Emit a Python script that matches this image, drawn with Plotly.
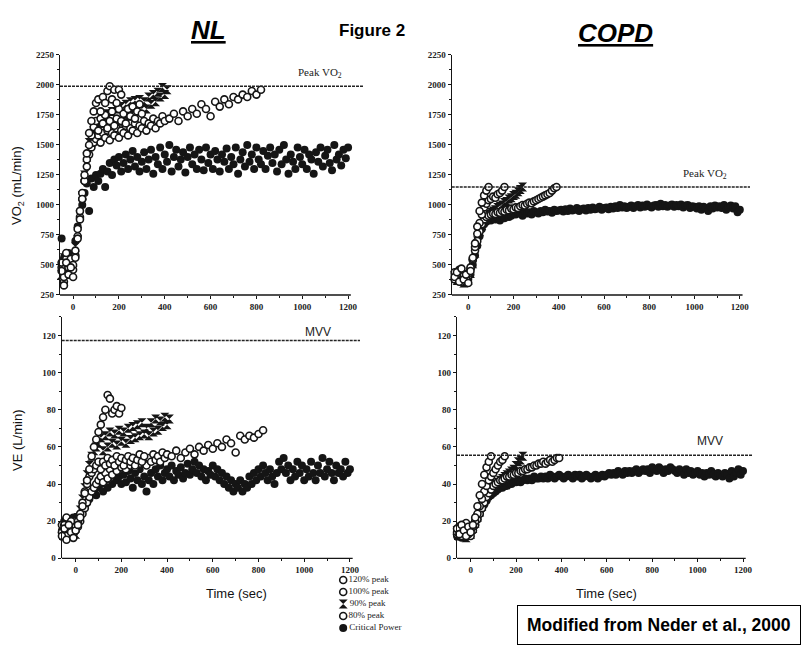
import plotly.graph_objects as go

# ---------------- data ----------------
labels = ["120% peak", "100% peak", "90% peak", "80% peak", "Critical Power"]

# time grids (s)
t_cp = list(range(-60, 1201, 10))
t_nl_120 = list(range(-60, 211, 10))
t_nl_100 = list(range(-60, 301, 10))
t_nl_90 = list(range(-60, 411, 10))
t_nl_80 = list(range(-60, 401, 10)) + list(range(420, 821, 20))
t_nl_120_ve = list(range(-60, 201, 10))
t_copd_120 = list(range(-60, 101, 10))
t_copd_100 = list(range(-60, 161, 10))
t_copd_90 = list(range(-60, 241, 10))
t_copd_80 = list(range(-60, 391, 10))
t_copd_120_ve = list(range(-60, 91, 10))
t_copd_100_ve = list(range(-60, 151, 10))
t_copd_90_ve = list(range(-60, 231, 10))

# NL  VO2 (mL/min)
nl_vo2_cp = [620, 720, 560, 480, 600, 520, 580,
             700, 820, 950, 1000, 1100, 1180, 950, 1220, 1150, 1250,
             1200, 1260, 1300, 1150, 1280, 1350, 1250, 1380, 1330, 1400,
             1280, 1350, 1420, 1300, 1380, 1450, 1320, 1400, 1280, 1360,
             1440, 1300, 1380, 1460, 1260, 1400, 1340, 1480, 1300, 1420,
             1360, 1500, 1280, 1400, 1460, 1320, 1380, 1440, 1270, 1400,
             1480, 1340, 1420, 1300, 1460, 1380, 1290, 1480, 1350, 1420,
             1300, 1450, 1380, 1280, 1420, 1360, 1470, 1300, 1400, 1340,
             1480, 1260, 1380, 1440, 1320, 1500, 1360, 1420, 1300, 1480,
             1380, 1340, 1450, 1300, 1410, 1480, 1350, 1420, 1280, 1460,
             1340, 1500, 1380, 1260, 1420, 1360, 1300, 1480, 1400, 1340,
             1460, 1300, 1420, 1380, 1260, 1440, 1360, 1480, 1320, 1410,
             1460, 1350, 1290, 1500, 1380, 1420, 1330, 1460, 1390, 1480]
nl_vo2_120 = [380, 450, 330, 520, 420, 480, 400,
              560, 720, 880, 1050, 1250, 1430, 1600, 1700, 1780, 1850,
              1880, 1780, 1900, 1850, 1950, 1990, 1880, 1960, 1850, 1960, 1920]
nl_vo2_100 = [450, 520, 400, 600, 480, 550, 500,
              620, 800, 950, 1100, 1200, 1380, 1500, 1580, 1650, 1700,
              1620, 1720, 1680, 1750, 1640, 1700, 1780, 1660, 1720, 1800,
              1700, 1760, 1680, 1800, 1740, 1820, 1720, 1780, 1840, 1760]
nl_vo2_90 = [500, 420, 560, 460, 540, 440, 520,
             650, 780, 920, 1080, 1250, 1400, 1520, 1580, 1620, 1650,
             1680, 1580, 1740, 1620, 1760, 1640, 1780, 1660, 1800, 1700,
             1820, 1700, 1840, 1740, 1860, 1760, 1870, 1780, 1880, 1800,
             1860, 1800, 1900, 1840, 1920, 1860, 1940, 1900, 1980, 1920, 1960]
nl_vo2_80 = [400, 480, 360, 550, 440, 500, 460,
             580, 740, 900, 1050, 1200, 1320, 1420, 1480, 1520, 1550,
             1580, 1520, 1600, 1560, 1620, 1540, 1600, 1580, 1640, 1560,
             1620, 1600, 1660, 1580, 1640, 1620, 1680, 1600, 1660, 1640,
             1700, 1620, 1680, 1660, 1720, 1640, 1700, 1680, 1740, 1700,
             1720, 1760, 1700, 1780, 1740, 1800, 1760, 1840, 1800, 1740,
             1860, 1820, 1880, 1840, 1900, 1880, 1920, 1900, 1950, 1920, 1960]

# NL  VE (L/min)
nl_ve_cp = [15, 20, 12, 18, 14, 22, 16,
            20, 24, 26, 28, 30, 32, 35, 36, 34, 38,
            40, 36, 42, 38, 44, 40, 46, 42, 44, 40,
            45, 41, 47, 43, 38, 46, 42, 48, 40, 44,
            36, 42, 46, 40, 48, 44, 50, 42, 46, 48,
            44, 50, 42, 47, 45, 49, 43, 46, 51, 45,
            48, 52, 46, 50, 44, 48, 42, 47, 45, 50,
            44, 48, 42, 46, 40, 44, 38, 42, 36, 40,
            38, 42, 36, 40, 38, 44, 40, 46, 42, 48,
            44, 50, 46, 42, 48, 44, 40, 46, 52, 48,
            54, 46, 50, 42, 48, 44, 52, 46, 50, 42,
            48, 44, 52, 46, 42, 50, 46, 54, 44, 48,
            52, 46, 42, 50, 46, 48, 44, 52, 46, 48]
nl_ve_120 = [12, 16, 10, 18, 14, 11, 15,
             18, 22, 28, 35, 42, 48, 55, 60, 64, 68,
             72, 76, 80, 88, 86, 78, 80, 82, 78, 81]
nl_ve_100 = [14, 18, 12, 16, 20, 13, 17,
             20, 24, 30, 36, 40, 44, 46, 48, 50, 52,
             48, 52, 50, 54, 51, 53, 50, 55, 52, 54,
             50, 53, 55, 52, 54, 50, 53, 56, 52, 55]
nl_ve_90 = [16, 12, 20, 14, 18, 15, 13,
            22, 26, 32, 38, 45, 50, 55, 58, 60, 62,
            65, 58, 66, 60, 68, 62, 67, 61, 69, 63,
            68, 62, 70, 64, 71, 65, 72, 66, 73, 67,
            70, 66, 73, 68, 75, 69, 74, 71, 76, 72, 75]
nl_ve_80 = [18, 14, 22, 12, 16, 20, 15,
            17, 20, 24, 27, 30, 33, 36, 38, 40, 42,
            44, 41, 46, 43, 48, 45, 50, 47, 52, 49,
            51, 48, 52, 50, 54, 49, 53, 51, 55, 52,
            50, 54, 52, 56, 53, 55, 52, 57, 54, 56,
            55, 58, 54, 57, 59, 56, 60, 58, 61, 59,
            62, 60, 64, 62, 57, 66, 64, 66, 65, 67, 69]

# COPD  VO2 (mL/min)
copd_vo2_cp = [420, 380, 450, 360, 400, 350, 380,
               420, 500, 580, 660, 740, 800, 840, 860, 880, 870,
               890, 880, 900, 870, 910, 890, 920, 900, 910, 930,
               920, 940, 930, 910, 950, 930, 940, 920, 950, 940,
               930, 950, 940, 960, 945, 950, 935, 960, 950, 955,
               960, 945, 965, 950, 970, 955, 960, 975, 950, 965,
               970, 955, 975, 960, 980, 965, 970, 985, 960, 975,
               980, 965, 985, 970, 990, 975, 1000, 980, 990, 975,
               985, 995, 975, 990, 1000, 980, 995, 985, 1005, 990,
               980, 995, 1000, 985, 1010, 990, 1000, 985, 995, 1005,
               985, 1000, 990, 1005, 980, 995, 1000, 975, 990, 985,
               970, 990, 960, 985, 975, 950, 990, 970, 995, 980,
               990, 975, 1000, 960, 985, 995, 970, 990, 940, 960]
copd_vo2_120 = [400, 440, 360, 470, 380, 420, 350,
                450, 560, 680, 820, 950, 1020, 1080, 1120, 1150]
copd_vo2_100 = [380, 420, 450, 360, 410, 390, 430,
                480, 550, 650, 760, 850, 920, 980, 1010, 1040, 1050,
                1070, 1060, 1090, 1100, 1120, 1150]
copd_vo2_90 = [410, 370, 430, 390, 350, 400, 370,
               430, 510, 600, 700, 780, 830, 870, 900, 920, 940,
               950, 960, 980, 990, 1000, 1020, 1030, 1050, 1060, 1080,
               1090, 1110, 1130, 1150]
copd_vo2_80 = [440, 400, 460, 380, 420, 360, 410,
               470, 540, 620, 700, 780, 840, 880, 900, 910, 920,
               930, 925, 940, 935, 950, 945, 960, 955, 970, 965,
               980, 975, 990, 1000, 995, 1010, 1020, 1015, 1030, 1040,
               1050, 1060, 1070, 1080, 1090, 1100, 1120, 1140, 1150]

# COPD  VE (L/min)
copd_ve_cp = [12, 14, 11, 15, 13, 12, 14,
              16, 18, 21, 24, 27, 29, 31, 33, 34, 35,
              36, 37, 38, 38, 39, 39, 40, 40, 41, 41,
              42, 41, 42, 43, 42, 43, 42, 44, 43, 43,
              44, 43, 44, 43, 45, 44, 43, 44, 45, 44,
              43, 44, 45, 44, 43, 45, 44, 45, 43, 44,
              45, 44, 43, 44, 45, 43, 44, 45, 44, 45,
              46, 45, 46, 45, 47, 46, 45, 47, 46, 47,
              46, 47, 48, 46, 47, 48, 47, 48, 46, 49,
              48, 47, 49, 48, 46, 48, 47, 49, 48, 47,
              46, 48, 47, 45, 48, 46, 47, 45, 46, 47,
              45, 46, 44, 46, 45, 47, 45, 44, 46, 45,
              44, 46, 45, 43, 47, 44, 46, 48, 45, 47]
copd_ve_120 = [16, 13, 18, 15, 12, 17, 14,
               18, 22, 28, 34, 40, 45, 49, 52, 55]
copd_ve_100 = [14, 17, 12, 16, 19, 13, 15,
               17, 20, 24, 28, 32, 36, 39, 42, 44, 46,
               48, 50, 52, 53, 55]
copd_ve_90 = [15, 12, 17, 14, 11, 16, 13,
              16, 19, 22, 25, 28, 31, 33, 35, 37, 38,
              40, 41, 42, 43, 44, 45, 46, 47, 48, 50,
              52, 53, 55]
copd_ve_80 = [13, 16, 12, 18, 14, 15, 12,
              15, 18, 21, 24, 27, 30, 33, 35, 37, 39,
              40, 41, 42, 42, 43, 44, 44, 45, 45, 46,
              46, 47, 47, 48, 48, 49, 49, 50, 50, 51,
              51, 52, 51, 52, 53, 52, 53, 54, 54]

peak_vo2_nl = 1990
peak_vo2_copd = 1150
mvv_nl = 117.3
mvv_copd = 55.5

# ---------------- styles ----------------
INK = "#151515"
open_m = dict(symbol="circle", size=7, color="white", line=dict(color=INK, width=1.6))
fill_m = dict(symbol="circle", size=8, color=INK, line=dict(width=0))
bow_m = dict(symbol="hourglass", size=9, color=INK, line=dict(width=0))
styles = {"120% peak": open_m, "100% peak": open_m, "90% peak": bow_m,
          "80% peak": open_m, "Critical Power": fill_m}

fig = go.Figure()

panels = [
    ("x", "y", [("Critical Power", t_cp, nl_vo2_cp), ("90% peak", t_nl_90, nl_vo2_90),
                ("80% peak", t_nl_80, nl_vo2_80), ("100% peak", t_nl_100, nl_vo2_100),
                ("120% peak", t_nl_120, nl_vo2_120)]),
    ("x2", "y2", [("Critical Power", t_cp, copd_vo2_cp), ("90% peak", t_copd_90, copd_vo2_90),
                  ("80% peak", t_copd_80, copd_vo2_80), ("100% peak", t_copd_100, copd_vo2_100),
                  ("120% peak", t_copd_120, copd_vo2_120)]),
    ("x3", "y3", [("Critical Power", t_cp, nl_ve_cp), ("90% peak", t_nl_90, nl_ve_90),
                  ("80% peak", t_nl_80, nl_ve_80), ("100% peak", t_nl_100, nl_ve_100),
                  ("120% peak", t_nl_120_ve, nl_ve_120)]),
    ("x4", "y4", [("Critical Power", t_cp, copd_ve_cp), ("90% peak", t_copd_90_ve, copd_ve_90),
                  ("80% peak", t_copd_80, copd_ve_80), ("100% peak", t_copd_100_ve, copd_ve_100),
                  ("120% peak", t_copd_120_ve, copd_ve_120)]),
]
for xa, ya, series in panels:
    for name, tt, vv in series:
        fig.add_trace(go.Scatter(x=tt, y=vv, mode="markers", name=name, marker=styles[name],
                                 xaxis=xa, yaxis=ya, showlegend=False, cliponaxis=False,
                                 hoverinfo="skip"))

# manual legend (keys + labels) on a hidden axis
for i, name in enumerate(labels):
    fig.add_trace(go.Scatter(x=[0], y=[i], mode="markers+text", text=[name],
                             textposition="middle right", marker=styles[name],
                             textfont=dict(family="Liberation Serif", size=9, color="#222222"),
                             xaxis="x5", yaxis="y5", showlegend=False, cliponaxis=False,
                             hoverinfo="skip"))

tickfont = dict(family="Liberation Serif", size=9, color="#222", weight="bold")

def xaxis(domain, rng, anchor):
    return dict(domain=domain, range=rng, anchor=anchor, showline=False, showgrid=False,
                zeroline=False, automargin=False, ticks="outside", ticklen=3, tickwidth=1,
                tickcolor=INK, tick0=0, dtick=200, tickfont=tickfont,
                minor=dict(ticks="outside", ticklen=2, tickcolor=INK, dtick=100, tick0=0))

def yaxis(domain, rng, anchor, dtick, mdt):
    return dict(domain=domain, range=rng, anchor=anchor, showline=True, linecolor=INK,
                linewidth=1.3, showgrid=False, zeroline=False, automargin=False,
                ticks="outside", ticklen=3, tickwidth=1, tickcolor=INK, tick0=0,
                dtick=dtick, tickfont=tickfont,
                minor=dict(ticks="outside", ticklen=2, tickcolor=INK, dtick=mdt, tick0=0))

# figure drawn at an 8px page offset: 804 x 649 px canvas
top_dom = [0.5578, 0.9276]
bot_dom = [0.1521, 0.5239]
xr = {"x": [-57, 1265], "x2": [-73, 1245], "x3": [-61, 1244], "x4": [-60, 1244]}
yr = {"y": [250, 2250], "y2": [250, 2250], "y3": [0, 130], "y4": [0, 130]}

fig.update_layout(
    template="none",
    width=804, height=649, margin=dict(l=0, r=0, t=0, b=0, autoexpand=False),
    paper_bgcolor="white", plot_bgcolor="white", showlegend=False,
    xaxis=xaxis([0.0647, 0.4415], xr["x"], "y"),
    xaxis2=xaxis([0.5519, 0.9229], xr["x2"], "y2"),
    xaxis3=xaxis([0.0668, 0.4378], xr["x3"], "y3"),
    xaxis4=xaxis([0.5585, 0.9266], xr["x4"], "y4"),
    yaxis=yaxis(top_dom, yr["y"], "x", 250, 125),
    yaxis2=yaxis(top_dom, yr["y2"], "x2", 250, 125),
    yaxis3=yaxis(bot_dom, yr["y3"], "x3", 20, 10),
    yaxis4=yaxis(bot_dom, yr["y4"], "x4", 20, 10),
    xaxis5=dict(domain=[0.4055, 0.5311], range=[-1, 10], visible=False, anchor="y5",
                automargin=False),
    yaxis5=dict(domain=[0.0354, 0.1279], range=[4.5, -0.5], visible=False, anchor="x5",
                automargin=False),
)

shapes = []
# x-axis base lines (stop just past 1200)
for xa, ya in [("x", "y"), ("x2", "y2"), ("x3", "y3"), ("x4", "y4")]:
    shapes.append(dict(type="line", xref=xa, yref=ya + " domain", x0=xr[xa][0], x1=1212,
                       y0=0, y1=0, line=dict(color=INK, width=1.3)))
# reference lines
for xa, ya, val in [("x", "y", peak_vo2_nl), ("x2", "y2", peak_vo2_copd),
                    ("x3", "y3", mvv_nl), ("x4", "y4", mvv_copd)]:
    shapes.append(dict(type="line", xref=xa, yref=ya, x0=xr[xa][0], x1=xr[xa][1],
                       y0=val, y1=val, line=dict(color="#222", width=1.4, dash="3px,1px")))
fig.update_layout(shapes=shapes)

serif = "Liberation Serif"
sans = "Liberation Sans"
C = dict(xanchor="center", yanchor="middle", showarrow=False)
ann = [
    dict(text="<b><i>NL</i></b>", x=0.2488, y=0.9661, xref="paper", yref="paper",
         font=dict(family=sans, size=26, color="black", lineposition="under"), **C),
    dict(text="<b>Figure 2</b>", x=0.4527, y=0.9646, xref="paper", yref="paper",
         font=dict(family=sans, size=17, color="black"), **C),
    dict(text="<b><i>COPD</i></b>", x=0.755, y=0.9615, xref="paper", yref="paper",
         font=dict(family=sans, size=26, color="black", lineposition="under"), **C),
    dict(text="VO<sub>2</sub> (mL/min)", x=0.0124, y=0.7273, xref="paper", yref="paper",
         textangle=-90, font=dict(family=sans, size=13, color="#111"), **C),
    dict(text="VE (L/min)", x=0.0124, y=0.3344, xref="paper", yref="paper",
         textangle=-90, font=dict(family=sans, size=13, color="#111"), **C),
    dict(text="Time (sec)", x=0.2848, y=0.0986, xref="paper", yref="paper",
         font=dict(family=sans, size=13, color="#111"), **C),
    dict(text="Time (sec)", x=0.745, y=0.0986, xref="paper", yref="paper",
         font=dict(family=sans, size=13, color="#111"), **C),
    dict(text="Peak VO<sub>2</sub>", x=1078, y=2100, xref="x", yref="y",
         font=dict(family=serif, size=11, color="#222"), **C),
    dict(text="Peak VO<sub>2</sub>", x=1045, y=1262, xref="x2", yref="y2",
         font=dict(family=serif, size=11, color="#222"), **C),
    dict(text="MVV", x=1060, y=122, xref="x3", yref="y3",
         font=dict(family=sans, size=12, color="#222"), **C),
    dict(text="MVV", x=1055, y=63, xref="x4", yref="y4",
         font=dict(family=sans, size=12, color="#222"), **C),
    dict(text="<b>Modified from Neder et al., 2000</b>", x=0.8103, y=0.0493,
         xref="paper", yref="paper", font=dict(family=sans, size=17.5, color="black"),
         bordercolor="black", borderwidth=1, borderpad=9, bgcolor="white", **C),
]
fig.update_layout(annotations=ann)

fig.write_html("out.html")
